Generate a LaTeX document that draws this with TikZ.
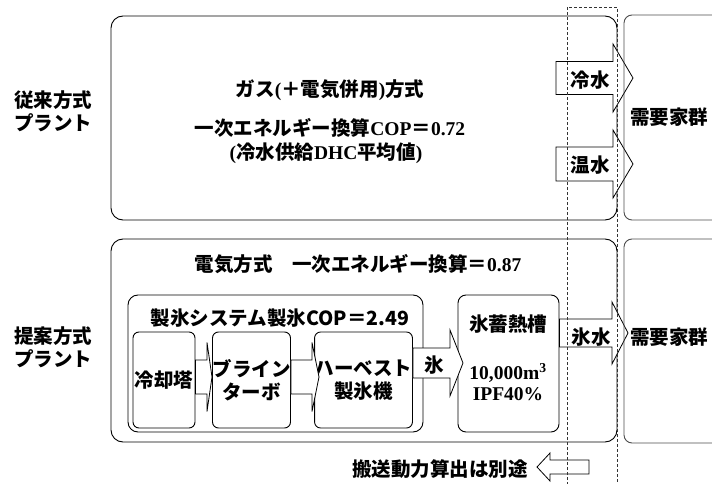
\documentclass[tikz,border=0pt]{standalone}
\usepackage{fontspec}
\setmainfont{Liberation Serif}
\newfontfamily\jp{Noto Sans CJK JP}
\usetikzlibrary{calc}
\newcommand{\J}[1]{{\jp #1}}
% block arrow: start, tip, shaft half height, head half height, head length
\newcommand{\blockarrow}[5]{%
  \draw[blk] let \p1=(#1), \p2=(#2) in
    ({\x1},{\y2+#3}) -- ({\x2-(#5)},{\y2+#3}) -- ({\x2-(#5)},{\y2+#4}) -- (\p2)
    -- ({\x2-(#5)},{\y2-#4}) -- ({\x2-(#5)},{\y2-#3}) -- ({\x1},{\y2-#3}) -- cycle;}
\tikzset{
  txt/.style={font=\fontsize{19.5}{23}\selectfont\bfseries, inner sep=0pt, align=center},
  bigbox/.style={draw, line width=0.9pt, rounded corners=12pt, inner sep=0pt},
  subbox/.style={draw, line width=0.9pt, rounded corners=6pt, inner sep=0pt, txt},
  demand/.style={draw=gray!60!black, line width=0.9pt, rounded corners=8pt, inner sep=0pt},
  blk/.style={draw, fill=white, line width=0.8pt},
  border/.style={draw=gray!40!black, line width=0.9pt, dash pattern=on 3pt off 2pt}
}
\begin{document}
\begin{tikzpicture}[x=1pt, y=-1pt]
  \useasboundingbox (0,0) rectangle (712,484);
  \clip (0,0) rectangle (712,484);

  % conventional plant
  \node[txt] (conv-lbl) at (53,111.5) {\J{従来方式}\\\J{プラント}};
  \node[bigbox, minimum width=506pt, minimum height=204pt] (conv) at (364,118) {};
  \node[txt] (gas) at (330,90) {\J{ガス}(\J{＋電気併用})\J{方式}};
  \node[txt] (cop1) at (330,128) {\J{一次エネルギー換算}COP\J{＝}0.72};
  \node[txt] (dhc) at (326,153) {(\J{冷水供給}DHC\J{平均値})};

  % proposed plant
  \node[txt] (prop-lbl) at (53,347.5) {\J{提案方式}\\\J{プラント}};
  \node[bigbox, minimum width=506pt, minimum height=203pt] (prop) at (364,340.5) {};
  \node[txt] (elec) at (358,264) {\J{電気方式　一次エネルギー換算＝}0.87};
  \node[bigbox, rounded corners=10pt, minimum width=295pt, minimum height=137pt] (icesys) at (275.5,363.5) {};
  \node[txt] (icecop) at (280,318) {\J{製氷システム製氷COP＝2.49}};
  \node[subbox, minimum width=62pt, minimum height=96pt] (tower) at (164,380) {\J{冷却塔}};
  \node[subbox, minimum width=77pt, minimum height=96pt] (brine) at (251.5,380) {\J{ブライン}\\\J{ターボ}};
  \node[subbox, minimum width=97pt, minimum height=96pt] (harvest) at (363.5,380) {\J{ハーベスト}\\\J{製氷機}};
  \node[subbox, rounded corners=8pt, minimum width=101pt, minimum height=137pt] (tank) at (508.5,363.5) {};
  \node[txt] (tank-lbl) at (508,324) {\J{氷蓄熱槽}};
  \node[txt] (tank-vol) at (508,373) {10,000m\textsuperscript{3}};
  \node[txt] (tank-ipf) at (508,394) {IPF40\%};

  % block arrows
  \coordinate (cw-s) at (556,78);   \coordinate (cw-t) at (633,78);
  \coordinate (hw-s) at (556,164);  \coordinate (hw-t) at (633,164);
  \coordinate (tw-t) at (212,377);  \coordinate (br-t) at (319,377);
  \coordinate (ice-t) at (463,363); \coordinate (iw-t) at (628,333);
  \coordinate (tr-s) at (589,467);  \coordinate (tr-t) at (537,467);
  \blockarrow{cw-s}{cw-t}{16.5pt}{34pt}{20pt}
  \blockarrow{hw-s}{hw-t}{17pt}{34pt}{20pt}
  \blockarrow{tower.east}{tw-t}{17pt}{34.5pt}{5pt}
  \blockarrow{brine.east}{br-t}{17pt}{34.5pt}{7pt}
  \blockarrow{harvest.east}{ice-t}{15pt}{33pt}{13pt}
  \blockarrow{tank.east}{iw-t}{14pt}{31pt}{16pt}
  \blockarrow{tr-s}{tr-t}{7pt}{14pt}{-13pt}
  \node[txt] (cw) at (590,80) {\J{冷水}};
  \node[txt] (hw) at (590,165) {\J{温水}};
  \node[txt] (ice) at (434,365) {\J{氷}};
  \node[txt] (iw) at (591,337) {\J{氷水}};
  \node[txt] (trans) at (440,469) {\J{搬送動力算出は別途}};

  % demand side
  \node[demand, minimum width=116pt, minimum height=205pt] (dem1) at (682,117.5) {};
  \node[demand, minimum width=116pt, minimum height=204pt] (dem2) at (682,341) {};
  \node[txt] (dem1-lbl) at (669,117) {\J{需要家群}};
  \node[txt] (dem2-lbl) at (669,337) {\J{需要家群}};

  % boundary
  \draw[border] (567,490) -- (567,7) -- (617,7) -- (617,490);
\end{tikzpicture}
\end{document}
